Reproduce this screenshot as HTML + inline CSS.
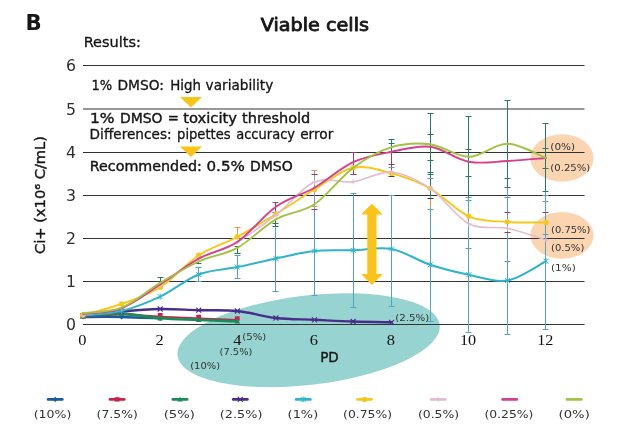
<!DOCTYPE html>
<html lang="en"><head><meta charset="utf-8"><title>Viable cells</title>
<style>html,body{margin:0;padding:0;background:#fff}svg{display:block}text{font-family:"DejaVu Sans","Liberation Sans",sans-serif;fill:#161616}.se{font-family:"Liberation Serif","DejaVu Serif",serif;font-size:16.3px;fill:#111}.ya{font-size:15.6px;fill:#2e2e2e}.lg{font-size:10.8px;fill:#333}.an{font-size:9px;fill:#333}.t{font-size:13.3px;stroke:#161616;stroke-width:.3}.tb{font-size:13.3px;stroke:#161616;stroke-width:.38}</style></head><body>
<svg width="620" height="431" viewBox="0 0 620 431">
<rect width="620" height="431" fill="#fff"/>
<ellipse cx="308.6" cy="340.2" rx="132" ry="44.7" fill="#97d3d0" transform="rotate(-6.7 308.6 340.2)"/>
<ellipse cx="562" cy="158" rx="31.6" ry="23.8" fill="#fbd5b1"/>
<ellipse cx="562" cy="235.4" rx="31.6" ry="23.3" fill="#fbd5b1"/>
<line x1="83" x2="584.5" y1="324.5" y2="324.5" stroke="#333" stroke-width="1"/>
<line x1="83" x2="584.5" y1="281.5" y2="281.5" stroke="#333" stroke-width="1"/>
<line x1="83" x2="584.5" y1="238.5" y2="238.5" stroke="#333" stroke-width="1"/>
<line x1="83" x2="584.5" y1="195.5" y2="195.5" stroke="#333" stroke-width="1"/>
<line x1="83" x2="584.5" y1="152.5" y2="152.5" stroke="#333" stroke-width="1"/>
<line x1="83" x2="584.5" y1="109.0" y2="109.0" stroke="#333" stroke-width="1"/>
<line x1="83" x2="584.5" y1="65.5" y2="65.5" stroke="#333" stroke-width="1"/>
<line x1="160.5" x2="160.5" y1="277.4" y2="283.0" stroke="#2c7a55" stroke-width="1"/>
<line x1="198.5" x2="198.5" y1="267.3" y2="281.6" stroke="#56a4bc" stroke-width="1"/>
<line x1="198.5" x2="198.5" y1="259.0" y2="263.5" stroke="#2c7a55" stroke-width="1"/>
<line x1="237.5" x2="237.5" y1="255.2" y2="278.4" stroke="#56a4bc" stroke-width="1"/>
<line x1="237.5" x2="237.5" y1="246.0" y2="253.5" stroke="#2c7a55" stroke-width="1"/>
<line x1="237.5" x2="237.5" y1="227.3" y2="237.0" stroke="#e39a4e" stroke-width="1"/>
<line x1="275.5" x2="275.5" y1="227.3" y2="291.0" stroke="#56a4bc" stroke-width="1"/>
<line x1="275.5" x2="275.5" y1="202.5" y2="212.2" stroke="#9c3d62" stroke-width="1"/>
<line x1="275.5" x2="275.5" y1="219.0" y2="226.1" stroke="#2c7a55" stroke-width="1"/>
<line x1="314.5" x2="314.5" y1="209.0" y2="295.7" stroke="#56a4bc" stroke-width="1"/>
<line x1="314.5" x2="314.5" y1="170.4" y2="209.0" stroke="#7f9fb4" stroke-width="1"/>
<line x1="353.5" x2="353.5" y1="193.0" y2="307.8" stroke="#56a4bc" stroke-width="1"/>
<line x1="353.5" x2="353.5" y1="152.4" y2="174.2" stroke="#9c3d62" stroke-width="1"/>
<line x1="391.5" x2="391.5" y1="195.0" y2="306.7" stroke="#56a4bc" stroke-width="1"/>
<line x1="391.5" x2="391.5" y1="139.4" y2="150.0" stroke="#267a68" stroke-width="1"/>
<line x1="391.5" x2="391.5" y1="150.0" y2="176.0" stroke="#9c3d62" stroke-width="1"/>
<line x1="430.5" x2="430.5" y1="196.0" y2="321.2" stroke="#56a4bc" stroke-width="1"/>
<line x1="430.5" x2="430.5" y1="199.5" y2="207.0" stroke="#e39a4e" stroke-width="1"/>
<line x1="430.5" x2="430.5" y1="113.1" y2="196.0" stroke="#267a68" stroke-width="1"/>
<line x1="468.5" x2="468.5" y1="197.0" y2="332.3" stroke="#56a4bc" stroke-width="1"/>
<line x1="468.5" x2="468.5" y1="116.1" y2="197.0" stroke="#267a68" stroke-width="1"/>
<line x1="507.5" x2="507.5" y1="187.5" y2="334.3" stroke="#56a4bc" stroke-width="1"/>
<line x1="507.5" x2="507.5" y1="100.3" y2="187.5" stroke="#267a68" stroke-width="1"/>
<line x1="545.5" x2="545.5" y1="191.2" y2="329.3" stroke="#56a4bc" stroke-width="1"/>
<line x1="545.5" x2="545.5" y1="123.0" y2="191.2" stroke="#267a68" stroke-width="1"/>
<line x1="157.5" x2="163.5" y1="277.5" y2="277.5" stroke="#2c7a55" stroke-width="1"/>
<line x1="195.5" x2="201.5" y1="267.5" y2="267.5" stroke="#56a4bc" stroke-width="1"/>
<line x1="195.5" x2="201.5" y1="281.5" y2="281.5" stroke="#56a4bc" stroke-width="1"/>
<line x1="195.5" x2="201.5" y1="263.5" y2="263.5" stroke="#2c7a55" stroke-width="1"/>
<line x1="234.5" x2="240.5" y1="255.5" y2="255.5" stroke="#56a4bc" stroke-width="1"/>
<line x1="234.5" x2="240.5" y1="278.5" y2="278.5" stroke="#56a4bc" stroke-width="1"/>
<line x1="234.5" x2="240.5" y1="246.5" y2="246.5" stroke="#2c7a55" stroke-width="1"/>
<line x1="234.5" x2="240.5" y1="253.5" y2="253.5" stroke="#2c7a55" stroke-width="1"/>
<line x1="234.5" x2="240.5" y1="227.5" y2="227.5" stroke="#e39a4e" stroke-width="1"/>
<line x1="272.5" x2="278.5" y1="291.5" y2="291.5" stroke="#56a4bc" stroke-width="1"/>
<line x1="272.5" x2="278.5" y1="202.5" y2="202.5" stroke="#9c3d62" stroke-width="1"/>
<line x1="272.5" x2="278.5" y1="212.5" y2="212.5" stroke="#9c3d62" stroke-width="1"/>
<line x1="272.5" x2="278.5" y1="223.5" y2="223.5" stroke="#2c7a55" stroke-width="1"/>
<line x1="272.5" x2="278.5" y1="226.5" y2="226.5" stroke="#2c7a55" stroke-width="1"/>
<line x1="311.5" x2="317.5" y1="295.5" y2="295.5" stroke="#56a4bc" stroke-width="1"/>
<line x1="311.5" x2="317.5" y1="170.5" y2="170.5" stroke="#e39a4e" stroke-width="1"/>
<line x1="311.5" x2="317.5" y1="174.5" y2="174.5" stroke="#9c3d62" stroke-width="1"/>
<line x1="311.5" x2="317.5" y1="206.5" y2="206.5" stroke="#e39a4e" stroke-width="1"/>
<line x1="311.5" x2="317.5" y1="209.5" y2="209.5" stroke="#9c3d62" stroke-width="1"/>
<line x1="350.5" x2="356.5" y1="193.5" y2="193.5" stroke="#56a4bc" stroke-width="1"/>
<line x1="350.5" x2="356.5" y1="307.5" y2="307.5" stroke="#56a4bc" stroke-width="1"/>
<line x1="350.5" x2="356.5" y1="152.5" y2="152.5" stroke="#9c3d62" stroke-width="1"/>
<line x1="350.5" x2="356.5" y1="174.5" y2="174.5" stroke="#9c3d62" stroke-width="1"/>
<line x1="388.5" x2="394.5" y1="195.5" y2="195.5" stroke="#56a4bc" stroke-width="1"/>
<line x1="388.5" x2="394.5" y1="306.5" y2="306.5" stroke="#56a4bc" stroke-width="1"/>
<line x1="388.5" x2="394.5" y1="139.5" y2="139.5" stroke="#267a68" stroke-width="1"/>
<line x1="388.5" x2="394.5" y1="143.5" y2="143.5" stroke="#267a68" stroke-width="1"/>
<line x1="388.5" x2="394.5" y1="164.5" y2="164.5" stroke="#9c3d62" stroke-width="1"/>
<line x1="388.5" x2="394.5" y1="167.5" y2="167.5" stroke="#6f8fc8" stroke-width="1"/>
<line x1="388.5" x2="394.5" y1="176.5" y2="176.5" stroke="#444" stroke-width="1"/>
<line x1="427.5" x2="433.5" y1="113.5" y2="113.5" stroke="#267a68" stroke-width="1"/>
<line x1="427.5" x2="433.5" y1="134.5" y2="134.5" stroke="#267a68" stroke-width="1"/>
<line x1="427.5" x2="433.5" y1="160.5" y2="160.5" stroke="#267a68" stroke-width="1"/>
<line x1="427.5" x2="433.5" y1="172.5" y2="172.5" stroke="#267a68" stroke-width="1"/>
<line x1="427.5" x2="433.5" y1="174.5" y2="174.5" stroke="#267a68" stroke-width="1"/>
<line x1="427.5" x2="433.5" y1="178.5" y2="178.5" stroke="#6f8fc8" stroke-width="1"/>
<line x1="427.5" x2="433.5" y1="198.5" y2="198.5" stroke="#333" stroke-width="1"/>
<line x1="427.5" x2="433.5" y1="209.5" y2="209.5" stroke="#56a4bc" stroke-width="1"/>
<line x1="427.5" x2="433.5" y1="321.5" y2="321.5" stroke="#56a4bc" stroke-width="1"/>
<line x1="465.5" x2="471.5" y1="116.5" y2="116.5" stroke="#267a68" stroke-width="1"/>
<line x1="465.5" x2="471.5" y1="149.5" y2="149.5" stroke="#267a68" stroke-width="1"/>
<line x1="465.5" x2="471.5" y1="176.5" y2="176.5" stroke="#267a68" stroke-width="1"/>
<line x1="465.5" x2="471.5" y1="197.5" y2="197.5" stroke="#56a4bc" stroke-width="1"/>
<line x1="465.5" x2="471.5" y1="200.5" y2="200.5" stroke="#56a4bc" stroke-width="1"/>
<line x1="465.5" x2="471.5" y1="248.5" y2="248.5" stroke="#56a4bc" stroke-width="1"/>
<line x1="465.5" x2="471.5" y1="332.5" y2="332.5" stroke="#56a4bc" stroke-width="1"/>
<line x1="504.5" x2="510.5" y1="100.5" y2="100.5" stroke="#267a68" stroke-width="1"/>
<line x1="504.5" x2="510.5" y1="178.5" y2="178.5" stroke="#267a68" stroke-width="1"/>
<line x1="504.5" x2="510.5" y1="187.5" y2="187.5" stroke="#267a68" stroke-width="1"/>
<line x1="504.5" x2="510.5" y1="197.5" y2="197.5" stroke="#6f8fc8" stroke-width="1"/>
<line x1="504.5" x2="510.5" y1="212.5" y2="212.5" stroke="#9c3d62" stroke-width="1"/>
<line x1="504.5" x2="510.5" y1="232.5" y2="232.5" stroke="#9c3d62" stroke-width="1"/>
<line x1="504.5" x2="510.5" y1="261.5" y2="261.5" stroke="#56a4bc" stroke-width="1"/>
<line x1="504.5" x2="510.5" y1="334.5" y2="334.5" stroke="#56a4bc" stroke-width="1"/>
<line x1="542.5" x2="548.5" y1="123.5" y2="123.5" stroke="#267a68" stroke-width="1"/>
<line x1="542.5" x2="548.5" y1="148.5" y2="148.5" stroke="#267a68" stroke-width="1"/>
<line x1="542.5" x2="548.5" y1="168.5" y2="168.5" stroke="#267a68" stroke-width="1"/>
<line x1="542.5" x2="548.5" y1="191.5" y2="191.5" stroke="#267a68" stroke-width="1"/>
<line x1="542.5" x2="548.5" y1="195.5" y2="195.5" stroke="#6f8fc8" stroke-width="1"/>
<line x1="542.5" x2="548.5" y1="201.5" y2="201.5" stroke="#6f8fc8" stroke-width="1"/>
<line x1="542.5" x2="548.5" y1="212.5" y2="212.5" stroke="#9c3d62" stroke-width="1"/>
<line x1="542.5" x2="548.5" y1="234.5" y2="234.5" stroke="#56a4bc" stroke-width="1"/>
<line x1="542.5" x2="548.5" y1="329.5" y2="329.5" stroke="#56a4bc" stroke-width="1"/>
<path d="M83.00,317.00 C89.43,317.00 108.72,316.78 121.58,317.00 C134.44,317.22 153.73,318.08 160.16,318.30" fill="none" stroke="#1a5b9b" stroke-width="2.4" stroke-linejoin="round" stroke-linecap="round"/>
<path d="M83.0,314.4l2.6,2.6l-2.6,2.6l-2.6,-2.6z" fill="#1a5b9b"/>
<path d="M121.6,314.4l2.6,2.6l-2.6,2.6l-2.6,-2.6z" fill="#1a5b9b"/>
<path d="M160.2,315.7l2.6,2.6l-2.6,2.6l-2.6,-2.6z" fill="#1a5b9b"/>
<path d="M83.00,316.50 C89.43,316.17 108.72,314.48 121.58,314.50 C134.44,314.52 147.30,315.97 160.16,316.60 C173.02,317.23 185.88,317.75 198.74,318.30 C211.60,318.85 230.89,319.63 237.32,319.90" fill="none" stroke="#d11f4b" stroke-width="1.8" stroke-linejoin="round" stroke-linecap="round"/>
<rect x="80.6" y="312.9" width="4.8" height="4.4" fill="#d11f4b"/>
<rect x="119.2" y="310.9" width="4.8" height="4.4" fill="#d11f4b"/>
<rect x="157.8" y="313.0" width="4.8" height="4.4" fill="#d11f4b"/>
<rect x="196.3" y="314.7" width="4.8" height="4.4" fill="#d11f4b"/>
<rect x="234.9" y="316.3" width="4.8" height="4.4" fill="#d11f4b"/>
<path d="M83.00,316.00 C89.43,315.62 108.72,313.33 121.58,313.70 C134.44,314.07 147.30,317.18 160.16,318.20 C173.02,319.22 185.88,319.27 198.74,319.80 C211.60,320.33 230.89,321.13 237.32,321.40" fill="none" stroke="#1b8b59" stroke-width="2.8" stroke-linejoin="round" stroke-linecap="round"/>
<path d="M83.0,313.2l2.8,5h-5.6z" fill="#1b8b59"/>
<path d="M121.6,310.9l2.8,5h-5.6z" fill="#1b8b59"/>
<path d="M160.2,315.4l2.8,5h-5.6z" fill="#1b8b59"/>
<path d="M198.7,317.0l2.8,5h-5.6z" fill="#1b8b59"/>
<path d="M237.3,318.6l2.8,5h-5.6z" fill="#1b8b59"/>
<path d="M83.00,316.00 C89.43,315.25 108.72,312.67 121.58,311.50 C134.44,310.33 147.30,309.22 160.16,309.00 C173.02,308.78 185.88,309.87 198.74,310.20 C211.60,310.53 224.46,309.70 237.32,311.00 C250.18,312.30 263.04,316.53 275.90,318.00 C288.76,319.47 301.62,319.22 314.48,319.80 C327.34,320.38 340.20,321.08 353.06,321.50 C365.92,321.92 385.21,322.17 391.64,322.30" fill="none" stroke="#4a2c8a" stroke-width="2.4" stroke-linejoin="round" stroke-linecap="round"/>
<path d="M80.5,313.5l5,5m0,-5l-5,5" stroke="#4a2c8a" stroke-width="1.1" fill="none"/>
<path d="M119.1,309.0l5,5m0,-5l-5,5" stroke="#4a2c8a" stroke-width="1.1" fill="none"/>
<path d="M157.7,306.5l5,5m0,-5l-5,5" stroke="#4a2c8a" stroke-width="1.1" fill="none"/>
<path d="M196.2,307.7l5,5m0,-5l-5,5" stroke="#4a2c8a" stroke-width="1.1" fill="none"/>
<path d="M234.8,308.5l5,5m0,-5l-5,5" stroke="#4a2c8a" stroke-width="1.1" fill="none"/>
<path d="M273.4,315.5l5,5m0,-5l-5,5" stroke="#4a2c8a" stroke-width="1.1" fill="none"/>
<path d="M312.0,317.3l5,5m0,-5l-5,5" stroke="#4a2c8a" stroke-width="1.1" fill="none"/>
<path d="M350.6,319.0l5,5m0,-5l-5,5" stroke="#4a2c8a" stroke-width="1.1" fill="none"/>
<path d="M389.1,319.8l5,5m0,-5l-5,5" stroke="#4a2c8a" stroke-width="1.1" fill="none"/>
<path d="M83.00,315.50 C89.43,314.75 108.72,314.13 121.58,311.00 C134.44,307.87 147.30,302.78 160.16,296.70 C173.02,290.62 185.88,279.43 198.74,274.50 C211.60,269.57 224.46,269.77 237.32,267.10 C250.18,264.43 263.04,261.18 275.90,258.50 C288.76,255.82 301.62,252.37 314.48,251.00 C327.34,249.63 340.20,250.63 353.06,250.30 C365.92,249.97 378.78,246.58 391.64,249.00 C404.50,251.42 417.36,260.50 430.22,264.80 C443.08,269.10 455.94,272.18 468.80,274.80 C481.66,277.42 494.52,282.77 507.38,280.50 C520.24,278.23 539.53,264.42 545.96,261.20" fill="none" stroke="#31b4c9" stroke-width="2.0" stroke-linejoin="round" stroke-linecap="round"/>
<path d="M80.5,313.0l5,5m0,-5l-5,5M83.0,312.5v6" stroke="#31b4c9" stroke-width="1" fill="none"/>
<path d="M119.1,308.5l5,5m0,-5l-5,5M121.6,308.0v6" stroke="#31b4c9" stroke-width="1" fill="none"/>
<path d="M157.7,294.2l5,5m0,-5l-5,5M160.2,293.7v6" stroke="#31b4c9" stroke-width="1" fill="none"/>
<path d="M196.2,272.0l5,5m0,-5l-5,5M198.7,271.5v6" stroke="#31b4c9" stroke-width="1" fill="none"/>
<path d="M234.8,264.6l5,5m0,-5l-5,5M237.3,264.1v6" stroke="#31b4c9" stroke-width="1" fill="none"/>
<path d="M273.4,256.0l5,5m0,-5l-5,5M275.9,255.5v6" stroke="#31b4c9" stroke-width="1" fill="none"/>
<path d="M312.0,248.5l5,5m0,-5l-5,5M314.5,248.0v6" stroke="#31b4c9" stroke-width="1" fill="none"/>
<path d="M350.6,247.8l5,5m0,-5l-5,5M353.1,247.3v6" stroke="#31b4c9" stroke-width="1" fill="none"/>
<path d="M389.1,246.5l5,5m0,-5l-5,5M391.6,246.0v6" stroke="#31b4c9" stroke-width="1" fill="none"/>
<path d="M427.7,262.3l5,5m0,-5l-5,5M430.2,261.8v6" stroke="#31b4c9" stroke-width="1" fill="none"/>
<path d="M466.3,272.3l5,5m0,-5l-5,5M468.8,271.8v6" stroke="#31b4c9" stroke-width="1" fill="none"/>
<path d="M504.9,278.0l5,5m0,-5l-5,5M507.4,277.5v6" stroke="#31b4c9" stroke-width="1" fill="none"/>
<path d="M543.5,258.7l5,5m0,-5l-5,5M546.0,258.2v6" stroke="#31b4c9" stroke-width="1" fill="none"/>
<path d="M83.00,315.00 C89.43,313.17 108.72,308.63 121.58,304.00 C134.44,299.37 147.30,295.33 160.16,287.20 C173.02,279.07 185.88,263.60 198.74,255.20 C211.60,246.80 224.46,243.67 237.32,236.80 C250.18,229.93 263.04,221.88 275.90,214.00 C288.76,206.12 301.62,197.20 314.48,189.50 C327.34,181.80 340.20,170.48 353.06,167.80 C365.92,165.12 378.78,169.95 391.64,173.40 C404.50,176.85 417.36,181.35 430.22,188.50 C443.08,195.65 455.94,210.73 468.80,216.30 C481.66,221.87 494.52,220.88 507.38,221.90 C520.24,222.92 539.53,222.32 545.96,222.40" fill="none" stroke="#f7c81c" stroke-width="1.9" stroke-linejoin="round" stroke-linecap="round"/>
<circle cx="83.0" cy="315.0" r="2.7" fill="#f7c81c"/>
<circle cx="121.6" cy="304.0" r="2.7" fill="#f7c81c"/>
<circle cx="160.2" cy="287.2" r="2.7" fill="#f7c81c"/>
<circle cx="198.7" cy="255.2" r="2.7" fill="#f7c81c"/>
<circle cx="237.3" cy="236.8" r="2.7" fill="#f7c81c"/>
<circle cx="275.9" cy="214.0" r="2.7" fill="#f7c81c"/>
<circle cx="314.5" cy="189.5" r="2.7" fill="#f7c81c"/>
<circle cx="353.1" cy="167.8" r="2.7" fill="#f7c81c"/>
<circle cx="391.6" cy="173.4" r="2.7" fill="#f7c81c"/>
<circle cx="430.2" cy="188.5" r="2.7" fill="#f7c81c"/>
<circle cx="468.8" cy="216.3" r="2.7" fill="#f7c81c"/>
<circle cx="507.4" cy="221.9" r="2.7" fill="#f7c81c"/>
<circle cx="546.0" cy="222.4" r="2.7" fill="#f7c81c"/>
<path d="M83.00,314.50 C89.43,313.42 108.72,312.92 121.58,308.00 C134.44,303.08 147.30,293.23 160.16,285.00 C173.02,276.77 185.88,265.77 198.74,258.60 C211.60,251.43 224.46,249.27 237.32,242.00 C250.18,234.73 263.04,225.00 275.90,215.00 C288.76,205.00 301.62,187.53 314.48,182.00 C327.34,176.47 340.20,183.43 353.06,181.80 C365.92,180.17 378.78,171.08 391.64,172.20 C404.50,173.32 417.36,179.92 430.22,188.50 C443.08,197.08 455.94,217.05 468.80,223.70 C481.66,230.35 494.52,225.72 507.38,228.40 C520.24,231.08 539.53,237.90 545.96,239.80" fill="none" stroke="#e2bccf" stroke-width="1.6" stroke-linejoin="round" stroke-linecap="round"/>
<path d="M80.5,314.5h5M83.0,312.0v5" stroke="#e2bccf" stroke-width="1" fill="none"/>
<path d="M119.1,308.0h5M121.6,305.5v5" stroke="#e2bccf" stroke-width="1" fill="none"/>
<path d="M157.7,285.0h5M160.2,282.5v5" stroke="#e2bccf" stroke-width="1" fill="none"/>
<path d="M196.2,258.6h5M198.7,256.1v5" stroke="#e2bccf" stroke-width="1" fill="none"/>
<path d="M234.8,242.0h5M237.3,239.5v5" stroke="#e2bccf" stroke-width="1" fill="none"/>
<path d="M273.4,215.0h5M275.9,212.5v5" stroke="#e2bccf" stroke-width="1" fill="none"/>
<path d="M312.0,182.0h5M314.5,179.5v5" stroke="#e2bccf" stroke-width="1" fill="none"/>
<path d="M350.6,181.8h5M353.1,179.3v5" stroke="#e2bccf" stroke-width="1" fill="none"/>
<path d="M389.1,172.2h5M391.6,169.7v5" stroke="#e2bccf" stroke-width="1" fill="none"/>
<path d="M427.7,188.5h5M430.2,186.0v5" stroke="#e2bccf" stroke-width="1" fill="none"/>
<path d="M466.3,223.7h5M468.8,221.2v5" stroke="#e2bccf" stroke-width="1" fill="none"/>
<path d="M504.9,228.4h5M507.4,225.9v5" stroke="#e2bccf" stroke-width="1" fill="none"/>
<path d="M543.5,239.8h5M546.0,237.3v5" stroke="#e2bccf" stroke-width="1" fill="none"/>
<path d="M83.00,314.00 C89.43,313.05 108.72,313.22 121.58,308.30 C134.44,303.38 147.30,292.78 160.16,284.50 C173.02,276.22 185.88,265.68 198.74,258.60 C211.60,251.52 224.46,250.63 237.32,242.00 C250.18,233.37 263.04,215.85 275.90,206.80 C288.76,197.75 301.62,195.13 314.48,187.70 C327.34,180.27 340.20,168.18 353.06,162.20 C365.92,156.22 378.78,154.37 391.64,151.80 C404.50,149.23 417.36,145.13 430.22,146.80 C443.08,148.47 455.94,159.43 468.80,161.80 C481.66,164.17 494.52,161.63 507.38,161.00 C520.24,160.37 539.53,158.50 545.96,158.00" fill="none" stroke="#d5408f" stroke-width="1.9" stroke-linejoin="round" stroke-linecap="round"/>
<path d="M83.00,313.00 C89.43,312.10 108.72,312.62 121.58,307.60 C134.44,302.58 147.30,290.58 160.16,282.90 C173.02,275.22 185.88,267.35 198.74,261.50 C211.60,255.65 224.46,254.83 237.32,247.80 C250.18,240.77 263.04,226.57 275.90,219.30 C288.76,212.03 301.62,212.77 314.48,204.20 C327.34,195.63 340.20,177.40 353.06,167.90 C365.92,158.40 378.78,151.13 391.64,147.20 C404.50,143.27 417.36,142.70 430.22,144.30 C443.08,145.90 455.94,156.88 468.80,156.80 C481.66,156.72 494.52,143.60 507.38,143.80 C520.24,144.00 539.53,155.63 545.96,158.00" fill="none" stroke="#a2c243" stroke-width="1.9" stroke-linejoin="round" stroke-linecap="round"/>
<path d="M180,97h22l-11,10.5z" fill="#f9c318"/>
<path d="M180,146.5h22l-11,10.5z" fill="#f9c318"/>
<path d="M371.9,203.7l10.8,10.8h-6.2v59.6h6.2l-10.8,10.9l-10.8,-10.9h6.2v-59.6h-6.2z" fill="#f9c318"/>
<text x="25.6" y="29.8" font-size="20.4" font-weight="bold" textLength="16.2" lengthAdjust="spacingAndGlyphs">B</text>
<text x="260.8" y="31" font-size="18" textLength="108.2" lengthAdjust="spacingAndGlyphs" stroke="#161616" stroke-width=".85" stroke-linejoin="round">Viable cells</text>
<text class="t" y="46.8"><tspan x="83.7" textLength="57.3" lengthAdjust="spacingAndGlyphs">Results:</tspan></text>
<text class="t" y="90.0"><tspan x="91.4" textLength="20.7" lengthAdjust="spacingAndGlyphs">1%</tspan> <tspan x="117.5" textLength="46.5" lengthAdjust="spacingAndGlyphs">DMSO:</tspan> <tspan x="170.3" textLength="30.8" lengthAdjust="spacingAndGlyphs">High</tspan> <tspan x="205.6" textLength="67.7" lengthAdjust="spacingAndGlyphs">variability</tspan></text>
<text class="tb" y="122.6"><tspan x="90.0" textLength="24.6" lengthAdjust="spacingAndGlyphs">1%</tspan> <tspan x="120.0" textLength="42.6" lengthAdjust="spacingAndGlyphs">DMSO</tspan> <tspan x="167.8" textLength="11.1" lengthAdjust="spacingAndGlyphs">=</tspan> <tspan x="183.2" textLength="53.9" lengthAdjust="spacingAndGlyphs">toxicity</tspan> <tspan x="242.0" textLength="68.3" lengthAdjust="spacingAndGlyphs">threshold</tspan></text>
<text class="t" y="138.7"><tspan x="89.6" textLength="82.0" lengthAdjust="spacingAndGlyphs">Differences:</tspan> <tspan x="177.1" textLength="53.5" lengthAdjust="spacingAndGlyphs">pipettes</tspan> <tspan x="236.2" textLength="58.9" lengthAdjust="spacingAndGlyphs">accuracy</tspan> <tspan x="300.2" textLength="33.2" lengthAdjust="spacingAndGlyphs">error</tspan></text>
<text class="tb" y="170.6"><tspan x="89.7" textLength="112.2" lengthAdjust="spacingAndGlyphs">Recommended:</tspan> <tspan x="206.5" textLength="38.3" lengthAdjust="spacingAndGlyphs">0.5%</tspan> <tspan x="249.9" textLength="42.9" lengthAdjust="spacingAndGlyphs">DMSO</tspan></text>
<text class="tb" y="362.0"><tspan x="320.2" textLength="18.6" lengthAdjust="spacingAndGlyphs">PD</tspan></text>
<text class="tb" transform="translate(45,254) rotate(-90)" textLength="118" lengthAdjust="spacingAndGlyphs">Ci+ (x10⁶ C/mL)</text>
<text class="ya" x="65.9" y="330.2" textLength="10" lengthAdjust="spacingAndGlyphs">0</text>
<text class="ya" x="65.9" y="287.2" textLength="10" lengthAdjust="spacingAndGlyphs">1</text>
<text class="ya" x="65.9" y="244.2" textLength="10" lengthAdjust="spacingAndGlyphs">2</text>
<text class="ya" x="65.9" y="201.2" textLength="10" lengthAdjust="spacingAndGlyphs">3</text>
<text class="ya" x="65.9" y="158.2" textLength="10" lengthAdjust="spacingAndGlyphs">4</text>
<text class="ya" x="65.9" y="114.7" textLength="10" lengthAdjust="spacingAndGlyphs">5</text>
<text class="ya" x="65.9" y="71.2" textLength="10" lengthAdjust="spacingAndGlyphs">6</text>
<text class="se" style="font-size:15.6px" x="78.2" y="345" textLength="8.2" lengthAdjust="spacingAndGlyphs">0</text>
<text class="se" style="font-size:15.6px" x="155.4" y="345" textLength="8.2" lengthAdjust="spacingAndGlyphs">2</text>
<text class="se" style="font-size:15.6px" x="233.3" y="345" textLength="8.2" lengthAdjust="spacingAndGlyphs">4</text>
<text class="se" style="font-size:15.6px" x="309.7" y="345" textLength="8.2" lengthAdjust="spacingAndGlyphs">6</text>
<text class="se" style="font-size:15.6px" x="386.8" y="345" textLength="8.2" lengthAdjust="spacingAndGlyphs">8</text>
<text class="se" style="font-size:15.6px" x="460.0" y="345" textLength="16.2" lengthAdjust="spacingAndGlyphs">10</text>
<text class="se" style="font-size:15.6px" x="537.2" y="345" textLength="16.2" lengthAdjust="spacingAndGlyphs">12</text>
<line x1="48.1" x2="62.3" y1="399.4" y2="399.4" stroke="#1a5b9b" stroke-width="2.7" stroke-linecap="round"/>
<path d="M55.2,396.8l2.6,2.6l-2.6,2.6l-2.6,-2.6z" fill="#1a5b9b"/>
<text class="lg" x="33.7" y="417.8" textLength="37.7" lengthAdjust="spacingAndGlyphs">(10%)</text>
<line x1="110.0" x2="124.2" y1="399.4" y2="399.4" stroke="#d11f4b" stroke-width="2.7" stroke-linecap="round"/>
<rect x="114.7" y="397.2" width="4.8" height="4.4" fill="#d11f4b"/>
<text class="lg" x="96.6" y="417.8" textLength="41.3" lengthAdjust="spacingAndGlyphs">(7.5%)</text>
<line x1="172.9" x2="187.1" y1="399.4" y2="399.4" stroke="#1b8b59" stroke-width="2.7" stroke-linecap="round"/>
<path d="M180.0,396.6l2.8,5h-5.6z" fill="#1b8b59"/>
<text class="lg" x="163.7" y="417.8" textLength="31.3" lengthAdjust="spacingAndGlyphs">(5%)</text>
<line x1="233.2" x2="247.4" y1="399.4" y2="399.4" stroke="#4a2c8a" stroke-width="2.7" stroke-linecap="round"/>
<path d="M237.8,396.9l5,5m0,-5l-5,5" stroke="#4a2c8a" stroke-width="1.1" fill="none"/>
<text class="lg" x="219.8" y="417.8" textLength="42.6" lengthAdjust="spacingAndGlyphs">(2.5%)</text>
<line x1="296.1" x2="310.3" y1="399.4" y2="399.4" stroke="#31b4c9" stroke-width="2.7" stroke-linecap="round"/>
<path d="M300.7,396.9l5,5m0,-5l-5,5M303.2,396.4v6" stroke="#31b4c9" stroke-width="1" fill="none"/>
<text class="lg" x="287.6" y="417.8" textLength="30.6" lengthAdjust="spacingAndGlyphs">(1%)</text>
<line x1="357.4" x2="371.6" y1="399.4" y2="399.4" stroke="#f7c81c" stroke-width="2.7" stroke-linecap="round"/>
<circle cx="364.5" cy="399.4" r="2.7" fill="#f7c81c"/>
<text class="lg" x="343.1" y="417.8" textLength="49.0" lengthAdjust="spacingAndGlyphs">(0.75%)</text>
<line x1="431.1" x2="445.3" y1="399.4" y2="399.4" stroke="#e2bccf" stroke-width="2.7" stroke-linecap="round"/>
<path d="M435.7,399.4h5M438.2,396.9v5" stroke="#e2bccf" stroke-width="1" fill="none"/>
<text class="lg" x="417.9" y="417.8" textLength="41.3" lengthAdjust="spacingAndGlyphs">(0.5%)</text>
<line x1="502.6" x2="516.8" y1="399.4" y2="399.4" stroke="#d5408f" stroke-width="2.7" stroke-linecap="round"/>
<text class="lg" x="484.4" y="417.8" textLength="49.0" lengthAdjust="spacingAndGlyphs">(0.25%)</text>
<line x1="567.1" x2="581.3" y1="399.4" y2="399.4" stroke="#a2c243" stroke-width="2.7" stroke-linecap="round"/>
<text class="lg" x="558.6" y="417.8" textLength="31.2" lengthAdjust="spacingAndGlyphs">(0%)</text>
<text class="an" x="550.3" y="149.5" textLength="24.8" lengthAdjust="spacingAndGlyphs">(0%)</text>
<text class="an" x="550.3" y="170.6" textLength="40.0" lengthAdjust="spacingAndGlyphs">(0.25%)</text>
<text class="an" x="551.0" y="232.9" textLength="39.5" lengthAdjust="spacingAndGlyphs">(0.75%)</text>
<text class="an" x="551.0" y="250.5" textLength="33.3" lengthAdjust="spacingAndGlyphs">(0.5%)</text>
<text class="an" x="551.0" y="270.8" textLength="24.9" lengthAdjust="spacingAndGlyphs">(1%)</text>
<text class="an" x="395.3" y="320.5" textLength="34.0" lengthAdjust="spacingAndGlyphs">(2.5%)</text>
<text class="an" x="242.3" y="339.9" textLength="24.0" lengthAdjust="spacingAndGlyphs">(5%)</text>
<text class="an" x="219.6" y="355.0" textLength="32.8" lengthAdjust="spacingAndGlyphs">(7.5%)</text>
<text class="an" x="190.2" y="368.9" textLength="29.9" lengthAdjust="spacingAndGlyphs">(10%)</text>
</svg></body></html>
